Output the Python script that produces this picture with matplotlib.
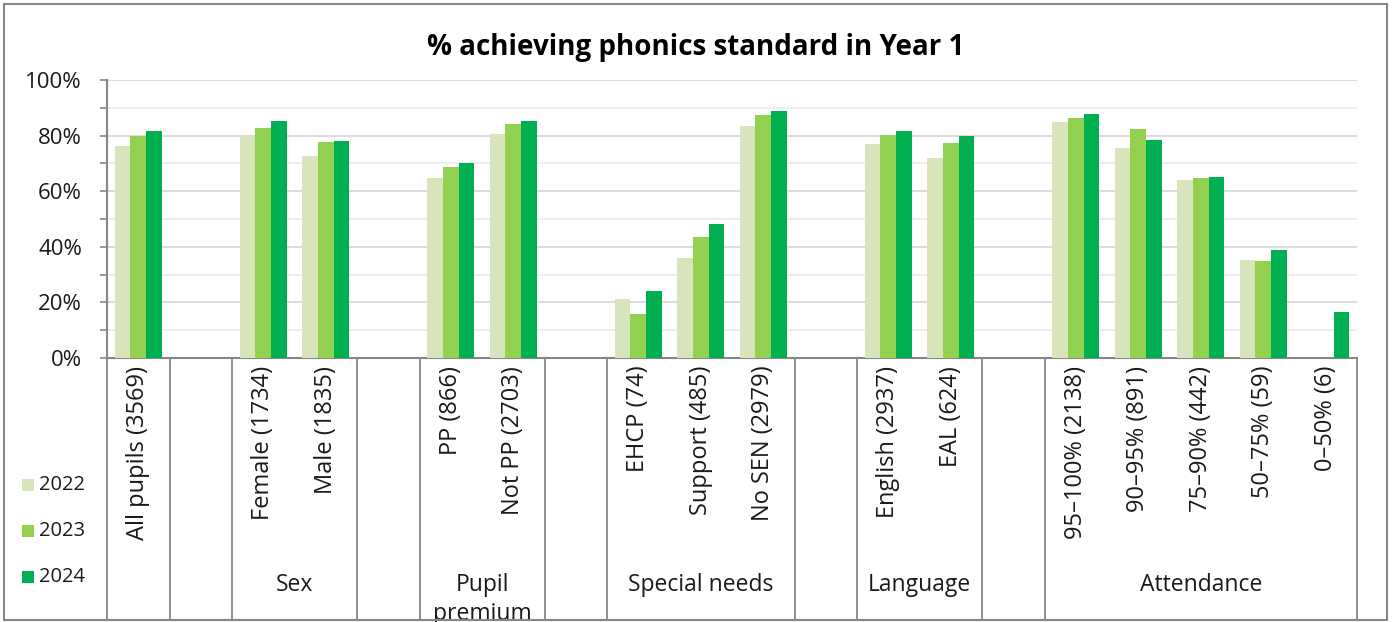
import matplotlib.pyplot as plt
from matplotlib.patches import Rectangle
from matplotlib.lines import Line2D
import numpy as np

plt.rcParams['font.family'] = ['Open Sans', 'DejaVu Sans']

# categories (None = empty gap slot between groups)
categories = ["All pupils (3569)", None, "Female (1734)", "Male (1835)", None,
              "PP (866)", "Not PP (2703)", None,
              "EHCP (74)", "Support (485)", "No SEN (2979)", None,
              "English (2937)", "EAL (624)", None,
              "95\u2013100% (2138)", "90\u201395% (891)", "75\u201390% (442)",
              "50\u201375% (59)", "0\u201350% (6)"]

# group name, first slot, last slot
groups = [("", 0, 0), ("Sex", 2, 3), ("Pupil\npremium", 5, 6),
          ("Special needs", 8, 10), ("Language", 12, 13), ("Attendance", 15, 19)]

years = ["2022", "2023", "2024"]
colors = ["#D8E4BC", "#92D050", "#00B050"]

v2022 = [76.4, None, 80.1, 72.8, None, 64.9, 80.5, None, 21.3, 36.1, 83.3, None,
         77.0, 72.0, None, 84.9, 75.6, 63.9, 35.2, None]
v2023 = [80.0, None, 82.6, 77.6, None, 68.6, 84.1, None, 15.7, 43.7, 87.5, None,
         80.3, 77.4, None, 86.4, 82.2, 64.7, 34.9, None]
v2024 = [81.6, None, 85.2, 78.0, None, 70.1, 85.1, None, 24.1, 48.1, 88.7, None,
         81.6, 79.8, None, 87.9, 78.4, 65.1, 38.7, 16.7]

fig = plt.figure(figsize=(13.92, 6.22), dpi=100)
ax = fig.add_axes([107/1392, 1 - 358/622, (1357 - 107)/1392, (358 - 80)/622])

n = len(categories)
x = np.arange(n)
w = 0.25
for i, (vals, c, yr) in enumerate(zip([v2022, v2023, v2024], colors, years)):
    xs = [xi + (i - 1) * w for xi, v in zip(x, vals) if v is not None]
    hs = [v / 100 for v in vals if v is not None]
    ax.bar(xs, hs, width=w, color=c, label=yr, zorder=3)

ax.set_xlim(-0.5, n - 0.5)
ax.set_ylim(0, 1)
ax.set_yticks(np.arange(0, 1.01, 0.2))
ax.set_yticks(np.arange(0.1, 1.0, 0.2), minor=True)
ax.set_yticklabels([f"{int(round(t*100))}%" for t in np.arange(0, 1.01, 0.2)],
                   fontsize=16, color="#1a1a1a")
ax.grid(axis='y', which='major', color="#D9D9D9", linewidth=1.3, zorder=0)
ax.grid(axis='y', which='minor', color="#EDEDED", linewidth=1.3, zorder=0)
ax.tick_params(axis='y', which='both', length=5, color="#868686", width=1.2, pad=13)
ax.set_xticks([])
for s in ['top', 'right']:
    ax.spines[s].set_visible(False)
for s in ['left', 'bottom']:
    ax.spines[s].set_color("#868686")
    ax.spines[s].set_linewidth(1.5)

# category labels
for xi, lab in zip(x, categories):
    if lab:
        ax.text(xi, -0.028, lab, rotation=90, ha='center', va='top',
                fontsize=17, color="#1a1a1a", transform=ax.get_xaxis_transform())

# dividers between groups, running down to the chart border
y_bottom = -(620 - 358) / (358 - 80)
bounds = set()
for name, a, b in groups:
    bounds.add(a - 0.5)
    bounds.add(b + 0.5)
for bx in sorted(bounds):
    ax.add_line(Line2D([bx, bx], [0, y_bottom], color="#868686", linewidth=1.3,
                       transform=ax.get_xaxis_transform(), clip_on=False))

# group labels
for name, a, b in groups:
    if name:
        ax.text((a + b) / 2, -(573 - 358) / (358 - 80), name, ha='center', va='top',
                fontsize=16.5, color="#1a1a1a", linespacing=1.3,
                transform=ax.get_xaxis_transform())

# legend on the left below the axis
for yr, c, py in zip(years, colors, [485, 531, 577]):
    fig.patches.append(Rectangle((22/1392, 1 - (py + 6)/622), 12/1392, 12/622,
                                 facecolor=c, edgecolor='none', transform=fig.transFigure))
    fig.text(39/1392, 1 - py/622, yr, ha='left', va='center', fontsize=14.5, color="#1a1a1a")

fig.text(0.5, 1 - 47/622, "% achieving phonics standard in Year 1", ha='center', va='center',
         fontsize=20, fontweight='bold')

# chart border
fig.patches.append(Rectangle((4/1392, 2/622), 1383/1392, 616/622, fill=False,
                             edgecolor="#868686", linewidth=1.5, transform=fig.transFigure))

fig.savefig("out.png", dpi=100)
